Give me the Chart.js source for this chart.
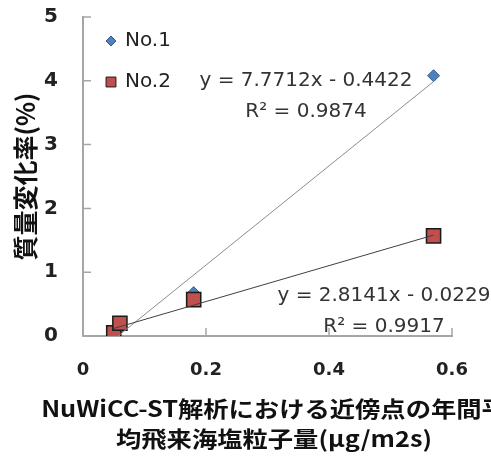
<!DOCTYPE html>
<html>
<head>
<meta charset="utf-8">
<script src="https://cdn.jsdelivr.net/npm/chart.js@4.4.1/dist/chart.umd.min.js"></script>
<style>
  body { margin: 0; background: #fff; }
  #wrap { width: 491px; height: 459px; }
</style>
</head>
<body>
<div id="wrap"><canvas id="myPlot" width="491" height="459"></canvas></div>
<script>
const seriesLabels = ["No.1", "No.2"];
const xValues1 = [0.05, 0.06, 0.18, 0.57];
const yValues1 = [0.02, 0.12, 0.68, 4.08];
const xValues2 = [0.05, 0.06, 0.18, 0.57];
const yValues2 = [0.05, 0.20, 0.57, 1.57];
const trendSlope = [7.7712, 2.8141];
const trendIntercept = [-0.4422, -0.0229];
const trendR2 = [0.9874, 0.9917];
const xTitle = ["NuWiCC-ST解析における近傍点の年間平", "均飛来海塩粒子量(μg/m2s)"];
const yTitle = "質量変化率(%)";

function toPoints(xs, ys) {
  return xs.map((x, i) => ({x: x, y: ys[i]}));
}

// trendline from the equation, over the range of the series
function trendPoints(xs, k) {
  const lo = Math.min(...xs), hi = Math.max(...xs);
  return [lo, hi].map(x => ({x: x, y: trendSlope[k] * x + trendIntercept[k]}));
}

function eqText(k) {
  const b = trendIntercept[k];
  return "y = " + trendSlope[k].toFixed(4) + "x " + (b < 0 ? "- " : "+ ") + Math.abs(b).toFixed(4);
}

// where the equation labels sit (centre of the text)
const eqPos = [[306, 81, 112], [384, 296, 327]];

const extras = {
  id: "extras",
  afterDraw(chart) {
    const ctx = chart.ctx;
    const xs = chart.scales.x, ys = chart.scales.y;
    ctx.save();
    // inside tick marks
    ctx.strokeStyle = "#a6a6a6";
    ctx.lineWidth = 1.5;
    ctx.beginPath();
    xs.ticks.forEach(t => {
      const px = xs.getPixelForValue(t.value);
      ctx.moveTo(px, ys.bottom);
      ctx.lineTo(px, ys.bottom - 8);
    });
    ys.ticks.forEach(t => {
      const py = ys.getPixelForValue(t.value);
      ctx.moveTo(xs.left, py);
      ctx.lineTo(xs.left + 8, py);
    });
    ctx.stroke();

    // legend
    const ds = chart.data.datasets;
    const legendY = [41, 82];
    [0, 1].forEach(k => {
      const d = ds[k];
      ctx.fillStyle = d.backgroundColor;
      ctx.strokeStyle = d.borderColor;
      ctx.lineWidth = 1;
      Chart.helpers.drawPoint(ctx, {pointStyle: d.pointStyle, radius: k == 0 ? 5 : 7, borderWidth: 1}, 111, legendY[k]);
      ctx.fillStyle = "#222";
      ctx.font = "20px 'DejaVu Sans'";
      ctx.textAlign = "left";
      ctx.textBaseline = "middle";
      ctx.fillText(seriesLabels[k], 125, legendY[k]);
    });

    // trendline equations
    ctx.fillStyle = "#333";
    ctx.font = "20px 'DejaVu Sans'";
    ctx.textAlign = "center";
    ctx.textBaseline = "middle";
    [0, 1].forEach(k => {
      ctx.fillText(eqText(k), eqPos[k][0], eqPos[k][1]);
      ctx.fillText("R² = " + trendR2[k].toFixed(4), eqPos[k][0], eqPos[k][2]);
    });

    // x axis title, a bit wide like the original
    ctx.fillStyle = "#111";
    ctx.font = "bold 22px 'Noto Sans CJK JP'";
    xTitle.forEach((line, i) => {
      ctx.save();
      ctx.translate(274, 409 + i * 30);
      ctx.scale(1.15, 1);
      ctx.fillText(line, 0, 0);
      ctx.restore();
    });
    ctx.restore();
  }
};

new Chart("myPlot", {
  type: "scatter",
  data: {
    datasets: [{
      label: seriesLabels[0],
      data: toPoints(xValues1, yValues1),
      pointStyle: "rectRot",
      pointRadius: 6,
      backgroundColor: "#4F81BD",
      borderColor: "#385D8A",
      borderWidth: 1,
      order: 4
    }, {
      label: seriesLabels[1],
      data: toPoints(xValues2, yValues2),
      pointStyle: "rect",
      pointRadius: 10,
      backgroundColor: "#C0504D",
      borderColor: "#1a1a1a",
      borderWidth: 1.5,
      order: 3
    }, {
      label: "trend1",
      data: trendPoints(xValues1, 0),
      showLine: true,
      pointRadius: 0,
      borderColor: "#8c8c8c",
      borderWidth: 1,
      order: 2
    }, {
      label: "trend2",
      data: trendPoints(xValues2, 1),
      showLine: true,
      pointRadius: 0,
      borderColor: "#404040",
      borderWidth: 1,
      order: 1
    }]
  },
  options: {
    responsive: false,
    animation: false,
    layout: {padding: {top: 17, right: 39, bottom: 0, left: 0}},
    plugins: {
      legend: {display: false},
      tooltip: {enabled: false}
    },
    scales: {
      x: {
        min: 0, max: 0.6,
        afterFit: s => { s.height = 123; s.paddingLeft = 0; s.paddingRight = 0; },
        grid: {display: false, drawTicks: false},
        border: {display: true, color: "#a6a6a6", width: 2},
        ticks: {
          stepSize: 0.2, autoSkip: false, padding: 24, color: "#222",
          font: {family: "'DejaVu Sans'", size: 18, weight: "bold"},
          callback: v => v == 0 ? "0" : v.toFixed(1)
        }
      },
      y: {
        min: 0, max: 5,
        afterFit: s => { s.width = 83; s.paddingTop = 0; s.paddingBottom = 0; },
        grid: {display: false, drawTicks: false},
        border: {display: true, color: "#a6a6a6", width: 2},
        ticks: {
          stepSize: 1, padding: 25, color: "#222",
          font: {family: "'DejaVu Sans'", size: 20, weight: "bold"}
        },
        title: {
          display: true, text: yTitle, color: "#111",
          font: {family: "'Noto Sans CJK JP'", size: 25, weight: "bold", lineHeight: 1.2},
          padding: {top: 10, bottom: 0}
        }
      }
    }
  },
  plugins: [extras]
});
</script>
</body>
</html>
